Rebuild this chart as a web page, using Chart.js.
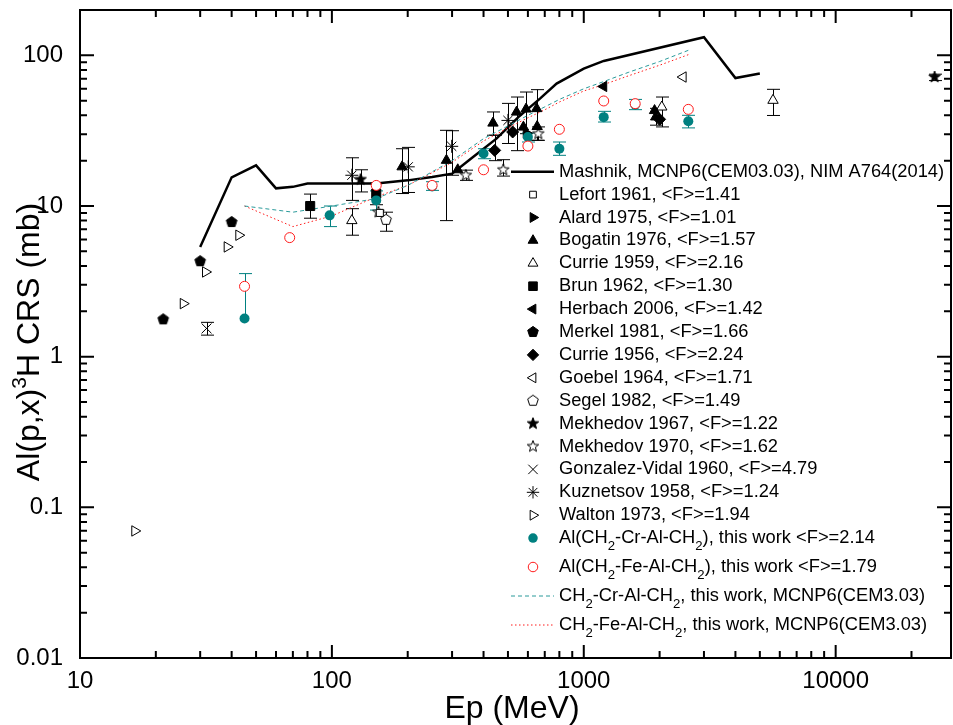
<!DOCTYPE html>
<html lang="en">
<head>
<meta charset="UTF-8" />
<title>Al(p,x)3H CRS</title>
<script src="https://cdn.jsdelivr.net/npm/chart.js"></script>
<style>
  * { margin: 0; padding: 0; box-sizing: border-box; }
  body { background: #fff; width: 953px; height: 725px; overflow: hidden; }
  canvas { display: block; }
</style>
</head>
<body>
<canvas id="crsChart" width="953" height="725"></canvas>
<script>
// ---- tick labels ----
const xTickLabels = ['10', '100', '1000', '10000'];
const yTickLabels = ['0.01', '0.1', '1', '10', '100'];

// ---- calculations (E in MeV, CRS in mb) ----
const mashnikE  = [30, 40, 50, 60, 70, 80, 100, 150, 200, 250, 300, 350, 450, 550, 670, 780, 1000, 1200, 3000, 4000, 5000];
const mashnikCS = [5.35, 15.5, 18.6, 13.1, 13.4, 14.1, 14.1, 14.1, 14.8, 15.6, 16.4, 20.1, 28, 38.9, 51.6, 64.9, 81.6, 91.8, 132, 70.7, 75.7];

const cemE   = [45, 70, 100, 150, 200, 300, 400, 500, 600, 700, 800, 1000, 1200, 1500, 2000, 2600];
const cemCr  = [10.0, 9.1, 10.0, 11.2, 13.7, 20, 28, 34, 40, 45.5, 51, 60, 67, 77, 91, 108];
const cemFe  = [10.0, 7.3, 8.6, 11.5, 13.7, 19.5, 27, 33, 38.5, 43.5, 49, 58, 64, 73, 86, 101];

// ---- experiments ----
const lefortE = [155], lefortCS = [9.0];
const alardE = [591], alardCS = [30.5];
const bogatinE  = [190, 285, 316, 436, 541, 576, 590, 650, 653, 1910, 1930];
const bogatinCS = [18.2, 20.1, 17.4, 35.5, 42, 33.4, 44, 44.3, 33.7, 43, 39];
const bogatinLo = [12.1, 8.0, null, 29.5, 23.3, null, 30.2, 27.3, null, null, 34.4];
const bogatinHi = [24, 31.8, null, 42.1, 52.9, null, 57.1, 59.2, null, null, 44.5];
const currie59E = [120, 2040, 5640], currie59CS = [8.0, 45.4, 50.3];
const currie59Lo = [6.4, 33.5, 39.9], currie59Hi = [9.6, 52.9, 59.5];
const brunE = [82, 150], brunCS = [10.0, 12.1], brunLo = [8.3, 10.2], brunHi = [12.0, 14.2];
const herbachE = [1200], herbachCS = [62.2];
const merkelE = [21.4, 30, 40], merkelCS = [1.77, 4.3, 7.83];
const currie56E = [443, 522, 2000], currie56CS = [23.4, 31, 37.6];
const currie56Lo = [20, null, null], currie56Hi = [29.5, null, null];
const goebelE = [2480], goebelCS = [71.8];
const segelE = [164], segelCS = [8.1], segelLo = [6.8], segelHi = [9.1];
const mek67E = [130, 24700], mek67CS = [15.0, 71.8], mek67Lo = [12.4, 68], mek67Hi = [17.4, 75];
const mek70E = [153, 340, 479, 660], mek70CS = [9.1, 16.0, 17.4, 30.2];
const mek70Lo = [null, 14.8, 15.8, 27.3], mek70Hi = [null, 17.3, 20.3, 33.5];
const gonzE = [31.8], gonzCS = [1.54], gonzLo = [1.39], gonzHi = [1.69];
const kuzE = [120, 201, 299, 500], kuzCS = [16.0, 18.2, 24.9, 37];
const kuzLo = [10.9, 12.3, 16, 26], kuzHi = [20.9, 24.5, 31.6, 48];
const waltonE = [16.5, 25.7, 31.5, 38.4, 42.7], waltonCS = [0.0697, 2.25, 3.65, 5.35, 6.4];

// ---- this work ----
const crE  = [45, 98, 150, 250, 400, 600, 800, 1200, 1600, 2600];
const crCS = [1.79, 8.67, 10.9, 13.5, 22.3, 28.7, 24, 38.9, 47, 36.5];
const crLo = [null, 7.3, 9.4, 12.7, 20.6, 26.6, 21.7, 36.1, 43.6, 33];
const crHi = [3.56, 10.0, 12.6, 14.5, 24, 30.5, 26.6, 42.5, 51, 40];
const feE  = [45, 68, 150, 250, 400, 600, 800, 1200, 1600, 2600];
const feCS = [2.93, 6.17, 13.7, 13.7, 17.4, 25, 32.3, 49.8, 47.8, 43.8];

const FONT = '"Liberation Sans", Arial, Helvetica, sans-serif';
const TEAL = '#008080';
const RED = '#ff1a1a';

function pts(E, CS, lo, hi) {
  return E.map((e, i) => ({ x: e, y: CS[i], lo: lo ? lo[i] : null, hi: hi ? hi[i] : null }));
}

// pentagon / five point star markers
function shape(kind, filled, r) {
  const c = document.createElement('canvas');
  const s = Math.ceil(r * 2 + 4);
  c.width = s; c.height = s;
  const g = c.getContext('2d');
  const n = kind === 'star' ? 10 : 5;
  g.beginPath();
  for (let i = 0; i < n; i++) {
    const a = -Math.PI / 2 + i * 2 * Math.PI / n;
    const rr = (kind === 'star' && i % 2) ? r * 0.42 : r;
    const px = s / 2 + rr * Math.cos(a), py = s / 2 + rr * Math.sin(a);
    i ? g.lineTo(px, py) : g.moveTo(px, py);
  }
  g.closePath();
  g.fillStyle = filled ? '#000' : '#fff';
  g.fill();
  g.lineWidth = 1;
  g.strokeStyle = '#000';
  g.stroke();
  return c;
}

function marker(label, data, style, filled, r, extra) {
  return Object.assign({
    label: label,
    data: data,
    pointStyle: style,
    pointRadius: r,
    pointBorderWidth: 1,
    pointBorderColor: '#000',
    pointBackgroundColor: filled ? '#000' : '#fff',
    errColor: '#000',
    order: 50
  }, extra || {});
}

const datasets = [
  { label: 'Mashnik, MCNP6(CEM03.03), NIM A764(2014)', data: pts(mashnikE, mashnikCS),
    showLine: true, borderColor: '#000', borderWidth: 2.5, pointRadius: 0, order: 100, legendLine: [] },
  marker('Lefort 1961, <F>=1.41', pts(lefortE, lefortCS), 'rect', false, 5),
  marker('Alard 1975, <F>=1.01', pts(alardE, alardCS), 'triangle', true, 6, { pointRotation: 90 }),
  marker('Bogatin 1976, <F>=1.57', pts(bogatinE, bogatinCS, bogatinLo, bogatinHi), 'triangle', true, 6),
  marker('Currie 1959, <F>=2.16', pts(currie59E, currie59CS, currie59Lo, currie59Hi), 'triangle', false, 6),
  marker('Brun 1962, <F>=1.30', pts(brunE, brunCS, brunLo, brunHi), 'rect', true, 6.4),
  marker('Herbach 2006, <F>=1.42', pts(herbachE, herbachCS), 'triangle', true, 6, { pointRotation: -90 }),
  marker('Merkel 1981, <F>=1.66', pts(merkelE, merkelCS), shape('pentagon', true, 5.6), true, 6),
  marker('Currie 1956, <F>=2.24', pts(currie56E, currie56CS, currie56Lo, currie56Hi), 'rectRot', true, 6),
  marker('Goebel 1964, <F>=1.71', pts(goebelE, goebelCS), 'triangle', false, 6, { pointRotation: -90 }),
  marker('Segel 1982, <F>=1.49', pts(segelE, segelCS, segelLo, segelHi), shape('pentagon', false, 5.6), false, 6),
  marker('Mekhedov 1967, <F>=1.22', pts(mek67E, mek67CS, mek67Lo, mek67Hi), shape('star', true, 6), true, 6),
  marker('Mekhedov 1970, <F>=1.62', pts(mek70E, mek70CS, mek70Lo, mek70Hi), shape('star', false, 6), false, 6),
  marker('Gonzalez-Vidal 1960, <F>=4.79', pts(gonzE, gonzCS, gonzLo, gonzHi), 'crossRot', false, 7),
  marker('Kuznetsov 1958, <F>=1.24', pts(kuzE, kuzCS, kuzLo, kuzHi), 'star', false, 6.5),
  marker('Walton 1973, <F>=1.94', pts(waltonE, waltonCS), 'triangle', false, 6, { pointRotation: 90 }),
  { label: 'Al(CH_2-Cr-Al-CH_2), this work <F>=2.14', data: pts(crE, crCS, crLo, crHi),
    pointStyle: 'circle', pointRadius: 5, pointBorderWidth: 0, pointBackgroundColor: TEAL,
    pointBorderColor: TEAL, errColor: TEAL, order: 20 },
  { label: 'Al(CH_2-Fe-Al-CH_2), this work <F>=1.79', data: pts(feE, feCS),
    pointStyle: 'circle', pointRadius: 5, pointBorderWidth: 1, pointBackgroundColor: '#fff',
    pointBorderColor: RED, order: 10 },
  { label: 'CH_2-Cr-Al-CH_2, this work, MCNP6(CEM3.03)', data: pts(cemE, cemCr),
    showLine: true, borderColor: '#2a9a9a', borderWidth: 1, borderDash: [4, 3], pointRadius: 0, order: 90, legendLine: [4, 3] },
  { label: 'CH_2-Fe-Al-CH_2, this work, MCNP6(CEM3.03)', data: pts(cemE, cemFe),
    showLine: true, borderColor: RED, borderWidth: 1, borderDash: [1.5, 2.5], pointRadius: 0, order: 95, legendLine: [1.5, 2.5] }
];

function drawRich(ctx, text, x, y, size) {
  const parts = text.split(/_(\d)/);
  let cx = x;
  parts.forEach((p, i) => {
    if (i % 2) {
      ctx.font = (size * 0.72) + 'px ' + FONT;
      ctx.fillText(p, cx, y + size * 0.45);
    } else {
      ctx.font = size + 'px ' + FONT;
      ctx.fillText(p, cx, y);
    }
    cx += ctx.measureText(p).width;
  });
}

// error bars under the markers
const errorBars = {
  id: 'errorBars',
  beforeDatasetsDraw(chart) {
    const { ctx, scales: { x, y } } = chart;
    ctx.save();
    ctx.lineWidth = 1;
    chart.data.datasets.forEach(ds => {
      if (!ds.errColor) return;
      ctx.strokeStyle = ds.errColor;
      ds.data.forEach(p => {
        if (p.lo == null && p.hi == null) return;
        const px = Math.round(x.getPixelForValue(p.x)) + 0.5;
        const y0 = y.getPixelForValue(p.lo == null ? p.y : p.lo);
        const y1 = y.getPixelForValue(p.hi == null ? p.y : p.hi);
        ctx.beginPath();
        ctx.moveTo(px, y0); ctx.lineTo(px, y1);
        if (p.lo != null) { ctx.moveTo(px - 6.5, y0); ctx.lineTo(px + 6.5, y0); }
        if (p.hi != null) { ctx.moveTo(px - 6.5, y1); ctx.lineTo(px + 6.5, y1); }
        ctx.stroke();
      });
    });
    ctx.restore();
  }
};

// box with inward ticks, axis titles and the legend
const frame = {
  id: 'frame',
  afterDraw(chart) {
    const { ctx, chartArea: a, scales: { x, y } } = chart;
    ctx.save();
    ctx.strokeStyle = '#000';
    ctx.lineWidth = 2;
    ctx.strokeRect(a.left, a.top, a.right - a.left, a.bottom - a.top);
    ctx.beginPath();
    for (let d = 1; d <= 4; d++) {
      for (let m = 1; m <= 9; m++) {
        const v = m * Math.pow(10, d);
        if (v >= x.max) break;
        const px = x.getPixelForValue(v);
        const len = m === 1 ? 13 : 7;
        ctx.moveTo(px, a.bottom); ctx.lineTo(px, a.bottom - len);
        ctx.moveTo(px, a.top); ctx.lineTo(px, a.top + len);
      }
    }
    for (let d = -2; d <= 2; d++) {
      for (let m = 1; m <= 9; m++) {
        const v = m * Math.pow(10, d);
        if (v >= y.max) break;
        const py = y.getPixelForValue(v);
        const len = m === 1 ? 14 : 7;
        ctx.moveTo(a.left, py); ctx.lineTo(a.left + len, py);
        ctx.moveTo(a.right, py); ctx.lineTo(a.right - len, py);
      }
    }
    ctx.stroke();

    // axis titles
    ctx.fillStyle = '#000';
    ctx.textBaseline = 'alphabetic';
    ctx.textAlign = 'center';
    ctx.font = '32px ' + FONT;
    ctx.fillText('Ep (MeV)', 512, 718);

    ctx.save();
    ctx.translate(39, 342);
    ctx.rotate(-Math.PI / 2);
    ctx.textAlign = 'left';
    const segs = [['Al(p,x)', 32, 0], ['3', 21, -13], ['H CRS (mb)', 32, 0]];
    let w = 0;
    segs.forEach(s => { ctx.font = s[1] + 'px ' + FONT; w += ctx.measureText(s[0]).width; });
    let cx = -w / 2;
    segs.forEach(s => {
      ctx.font = s[1] + 'px ' + FONT;
      ctx.fillText(s[0], cx, s[2]);
      cx += ctx.measureText(s[0]).width;
    });
    ctx.restore();

    // legend
    ctx.textAlign = 'left';
    ctx.textBaseline = 'middle';
    let ly = 171.7;
    chart.data.datasets.forEach((ds, i) => {
      if (i > 0) ly += i > 17 ? 29 : 22.9;
      if (i === 17) ly += 6;
      if (ds.legendLine) {
        ctx.save();
        ctx.strokeStyle = ds.borderColor;
        ctx.lineWidth = ds.borderWidth;
        ctx.setLineDash(ds.legendLine);
        ctx.beginPath();
        ctx.moveTo(511, ly); ctx.lineTo(554, ly);
        ctx.stroke();
        ctx.restore();
      } else {
        ctx.save();
        ctx.fillStyle = ds.pointBackgroundColor;
        ctx.strokeStyle = ds.pointBorderColor;
        ctx.lineWidth = ds.pointBorderWidth || 1;
        Chart.helpers.drawPoint(ctx, {
          pointStyle: ds.pointStyle,
          rotation: ds.pointRotation || 0,
          radius: ds.pointRadius * 0.95,
          borderWidth: ds.pointBorderWidth
        }, 533, ly);
        ctx.restore();
      }
      ctx.fillStyle = '#000';
      drawRich(ctx, ds.label, 559, ly, 18.3);
    });
    ctx.restore();
  }
};

const xTickVals = xTickLabels.map(Number);
const yTickVals = yTickLabels.map(Number);

new Chart(document.getElementById('crsChart'), {
  type: 'scatter',
  data: { datasets: datasets },
  options: {
    responsive: false,
    animation: false,
    events: [],
    layout: { autoPadding: false, padding: { left: 0, right: 2, top: 10, bottom: 0 } },
    plugins: { legend: { display: false }, tooltip: { enabled: false } },
    scales: {
      x: {
        type: 'logarithmic',
        min: 10,
        max: 28700,
        grid: { display: false, drawTicks: false },
        border: { display: false },
        afterBuildTicks: s => { s.ticks = xTickVals.map(v => ({ value: v })); },
        afterFit: s => { s.height = 67; s.paddingLeft = 0; s.paddingRight = 0; },
        ticks: {
          autoSkip: false, maxRotation: 0, padding: 9, color: '#000',
          font: { family: FONT, size: 24 },
          callback: v => xTickLabels[xTickVals.indexOf(v)]
        }
      },
      y: {
        type: 'logarithmic',
        min: 0.01,
        max: 200,
        grid: { display: false, drawTicks: false },
        border: { display: false },
        afterBuildTicks: s => { s.ticks = yTickVals.map(v => ({ value: v })); },
        afterFit: s => { s.width = 80; s.paddingTop = 0; s.paddingBottom = 0; },
        ticks: {
          autoSkip: false, padding: 17, color: '#000',
          font: { family: FONT, size: 24 },
          callback: v => yTickLabels[yTickVals.indexOf(v)]
        }
      }
    }
  },
  plugins: [errorBars, frame]
});
</script>
</body>
</html>
